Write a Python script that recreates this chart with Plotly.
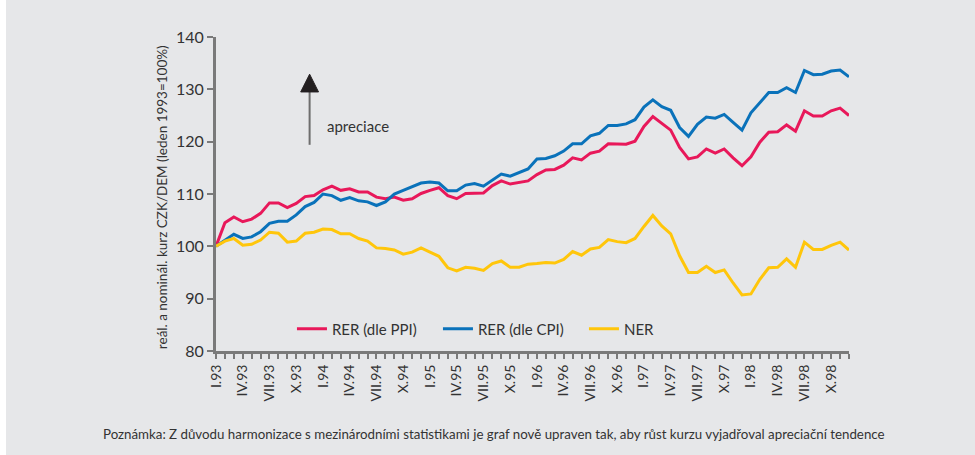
import plotly.graph_objects as go

months = list(range(72))
tick_labels = ["I.93", "IV.93", "VII.93", "X.93", "I.94", "IV.94", "VII.94", "X.94",
               "I.95", "IV.95", "VII.95", "X.95", "I.96", "IV.96", "VII.96", "X.96",
               "I.97", "IV.97", "VII.97", "X.97", "I.98", "IV.98", "VII.98", "X.98"]
tick_positions = list(range(0, 72, 3))

rer_ppi = [100.0, 104.5, 105.6, 104.7, 105.2, 106.3, 108.3, 108.3, 107.4, 108.2,
           109.5, 109.7, 110.8, 111.5, 110.7, 111.0, 110.4, 110.4, 109.4, 109.1,
           109.4, 108.8, 109.1, 110.1, 110.7, 111.2, 109.7, 109.1, 110.1, 110.1,
           110.2, 111.6, 112.5, 111.9, 112.2, 112.5, 113.7, 114.6, 114.7, 115.5,
           116.9, 116.5, 117.8, 118.2, 119.6, 119.6, 119.5, 120.1, 122.9, 124.8,
           123.5, 122.2, 118.9, 116.7, 117.1, 118.6, 117.8, 118.6, 116.9, 115.4,
           117.1, 119.9, 121.8, 121.9, 123.2, 122.0, 125.9, 124.9, 124.9, 125.9,
           126.4, 125.0]
rer_cpi = [100.0, 101.2, 102.3, 101.5, 101.8, 102.8, 104.4, 104.8, 104.8, 106.0,
           107.6, 108.4, 110.0, 109.7, 108.8, 109.3, 108.7, 108.5, 107.8, 108.5,
           110.0, 110.7, 111.4, 112.1, 112.3, 112.1, 110.6, 110.6, 111.7, 112.0,
           111.5, 112.7, 113.8, 113.4, 114.1, 114.8, 116.7, 116.8, 117.3, 118.2,
           119.6, 119.6, 121.1, 121.6, 123.1, 123.1, 123.4, 124.2, 126.6, 128.0,
           126.7, 126.0, 122.7, 121.0, 123.3, 124.7, 124.5, 125.2, 123.7, 122.2,
           125.5, 127.5, 129.4, 129.4, 130.3, 129.4, 133.6, 132.8, 132.9, 133.5,
           133.7, 132.4]
ner = [100.0, 101.0, 101.5, 100.2, 100.4, 101.2, 102.7, 102.5, 100.8, 101.0,
       102.5, 102.7, 103.3, 103.2, 102.4, 102.4, 101.5, 101.0, 99.7, 99.6,
       99.3, 98.5, 98.9, 99.7, 98.9, 98.1, 95.9, 95.3, 96.0, 95.8,
       95.4, 96.7, 97.2, 96.0, 96.0, 96.6, 96.7, 96.9, 96.8, 97.5,
       99.0, 98.3, 99.5, 99.8, 101.3, 100.9, 100.7, 101.5, 103.8, 105.9,
       103.9, 102.4, 98.2, 95.0, 95.0, 96.2, 95.0, 95.5, 93.0, 90.7,
       90.9, 93.7, 95.9, 96.0, 97.6, 96.0, 100.8, 99.4, 99.4, 100.2,
       100.8, 99.3]

series_names = ["RER (dle PPI)", "RER (dle CPI)", "NER"]
series_colors = ["#E8185A", "#0A72BA", "#FFC60B"]

FONT = "Lato"
AXIS_GRAY = "#7a7a7a"
TEXT = "#333333"

fig = go.Figure()
for name, vals, col in zip(series_names, [rer_ppi, rer_cpi, ner], series_colors):
    fig.add_trace(go.Scatter(x=months, y=vals, mode="lines", name=name,
                             line=dict(color=col, width=3)))

fig.update_layout(
    width=975, height=455,
    paper_bgcolor="#E6E7E9", plot_bgcolor="#E6E7E9",
    margin=dict(l=216, r=126, t=37, b=104),
    font=dict(family=FONT, color=TEXT),
    showlegend=True,
    legend=dict(orientation="h", x=0.12, y=0.07, xanchor="left", yanchor="middle",
                bgcolor="rgba(0,0,0,0)", font=dict(size=15, color=TEXT),
                itemwidth=30, entrywidth=101, entrywidthmode="pixels"),
    xaxis=dict(range=[0, 71], tickmode="array", tickvals=tick_positions,
               ticktext=tick_labels, tickangle=-90, showgrid=False, zeroline=False,
               showline=True, linecolor=AXIS_GRAY, linewidth=3,
               ticks="outside", ticklen=5, tickwidth=2, tickcolor=AXIS_GRAY,
               tickfont=dict(size=14, color=TEXT),
               minor=dict(tickmode="linear", tick0=0, dtick=1, ticks="outside",
                          ticklen=5, tickwidth=2, tickcolor=AXIS_GRAY)),
    yaxis=dict(range=[80, 140], tickmode="linear", tick0=80, dtick=10,
               showgrid=False, zeroline=False, showline=True,
               linecolor=AXIS_GRAY, linewidth=3, ticks="outside", ticklen=6,
               tickwidth=2, tickcolor=AXIS_GRAY, tickfont=dict(size=16, color=TEXT)),
)

# y-axis title as annotation
fig.add_annotation(text="reál. a nominál. kurz CZK/DEM (leden 1993=100%)",
                   xref="paper", yref="paper", x=(162 - 216) / 633, y=0.49,
                   textangle=-90, showarrow=False, xanchor="center", yanchor="middle",
                   font=dict(size=13.5, color=TEXT))

# appreciation arrow
fig.add_shape(type="line", xref="x", yref="y", x0=10.5, x1=10.5, y0=119.4, y1=129.5,
              line=dict(color="#6e6e6e", width=2))
fig.add_shape(type="path", xref="x", yref="y",
              path="M 9.5 129.5 L 11.5 129.5 L 10.5 132.9 Z",
              fillcolor="#231f20", line=dict(color="#231f20", width=1))
fig.add_annotation(text="apreciace", xref="x", yref="y", x=12.2, y=123.0,
                   showarrow=False, xanchor="left", yanchor="middle",
                   font=dict(size=15, color=TEXT))

# note
fig.add_annotation(text="Poznámka: Z důvodu harmonizace s mezinárodními statistikami je graf nově upraven tak, aby růst kurzu vyjadřoval apreciační tendence",
                   xref="paper", yref="paper", x=(101 - 216) / 633, y=-(434 - 351) / 314,
                   showarrow=False, xanchor="left", yanchor="middle",
                   font=dict(size=13.3, color=TEXT))

# white strip at left edge of page
fig.add_shape(type="rect", xref="paper", yref="paper",
              x0=-216 / 633, x1=(6 - 216) / 633, y0=-104 / 314, y1=(455 - 104) / 314 + 0.2,
              fillcolor="white", line=dict(width=0), layer="below")

fig.write_html("out.html", config={"displayModeBar": False},
               post_script="document.body.style.margin='0';document.body.style.background='#E6E7E9';")
